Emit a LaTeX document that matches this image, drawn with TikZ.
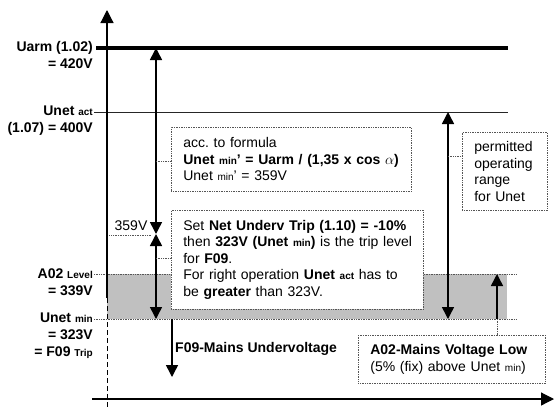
\documentclass[tikz,border=0pt]{standalone}
\usepackage{fontspec}
\setmainfont{Liberation Sans}
\usetikzlibrary{arrows.meta,positioning,calc}
\frenchspacing
\definecolor{bandgray}{HTML}{C0C0C0}
\definecolor{dotgray}{HTML}{555555}
\newcommand\lowtxt[1]{{\fontsize{10}{10}\selectfont #1}}
\tikzset{
  >={Triangle[length=12pt,width=12pt]},
  % nivåer
  axis/.style={draw=black,line width=1.2pt,-{Triangle[length=13pt,width=13pt]}},
  lvl/.style={font=\fontsize{14}{16.5}\selectfont\bfseries,anchor=east,
              text height=10.5pt,text depth=3pt,inner ysep=1.5pt,inner xsep=1pt},
  plain/.style={lvl,font=\fontsize{14}{16.5}\selectfont,anchor=center},
  lvlline/.style={draw=black!85,line width=1pt},
  guide/.style={draw=dotgray,line width=0.7pt,dash pattern=on 0.8pt off 0.9pt},
  span/.style={<->,draw=black,line width=1.5pt},
  single/.style={->,draw=black,line width=1.5pt},
  % rutor
  infobox/.style={rectangle,draw=dotgray,fill=white,line width=0.7pt,
                  dash pattern=on 0.8pt off 0.9pt,anchor=north west,
                  align=left,inner xsep=12pt,inner ysep=0pt,
                  font=\fontsize{14}{16.5}\selectfont},
}
\begin{document}
\begin{tikzpicture}[x=1pt,y=-1pt]
\useasboundingbox (0,0) rectangle (554,408);
  \fill[bandgray] (107,274) rectangle (507,319);
  % vänstra etiketter
  \node[lvl] (uarm) at (94,48) {Uarm (1.02)};
  \node[lvl,anchor=north east] (uarmv) at (uarm.south east) {= 420V};
  \node[lvl] (unetact) at (94,112) {Unet \lowtxt{act}};
  \node[lvl,anchor=north east] (unetactv) at (unetact.south east) {(1.07) = 400V};
  \node[lvl] (a02) at (94,275) {A02 \lowtxt{Level}};
  \node[lvl,anchor=north east] (a02v) at (a02.south east) {= 339V};
  \node[lvl] (unetmin) at (94,319) {Unet \lowtxt{min}};
  \node[lvl,anchor=north east] (unetminv) at (unetmin.south east) {= 323V};
  \node[lvl,anchor=north east] (f09trip) at (unetminv.south east) {= F09 \lowtxt{Trip}};
  \coordinate (uarmR) at (508,48);
  \coordinate (actR) at (508,112);
  \coordinate (a02R) at (517,274);
  \coordinate (minR) at (517,319);
  \draw[draw=black,line width=4pt] ([xshift=2pt]uarm.east) -- (uarmR);
  \draw[lvlline] (unetact.east) -- (actR);
  \draw[guide] (a02.east |- a02R) -- (a02R);
  \draw[guide] (unetmin.east) -- (minR);
  % achsen
  \coordinate (ytop) at (107,10);
  \coordinate (ysplit) at (107,298);
  \draw[axis] (ysplit) -- (ytop);
  \draw[draw=black,line width=1pt,dash pattern=on 5pt off 3pt] (ysplit) -- (107,408);
  \draw[axis] (92,399) -- (554,399);
  % pfeile
  \coordinate (armtop) at (156,48);
  \coordinate (m359) at (156,234);
  \coordinate (armbot) at (156,319);
  \draw[span] (armtop) -- (m359);
  \draw[span] (m359) -- (armbot);
  \node[plain] (v359) at (131,227) {359V};
  \draw[guide] ([xshift=-4pt]v359.south west) -- ([xshift=3pt]v359.south east);
  \draw[span] (448,112) -- (448,319);
  \coordinate (a02foot) at (497,319);
  \draw[single] (a02foot) -- (497,274);
  \coordinate (f09top) at (172,319);
  \draw[single] (f09top) -- (172,377);
  \node[lvl,anchor=west] (f09) at (174,349) {F09-Mains Undervoltage};
  % rutor
  \node[infobox,minimum width=240,minimum height=64,text width=216] (formula) at (171,127)
    {acc. to formula\\\textbf{Unet \lowtxt{min}' = Uarm / (1,35 x cos $\alpha$)}\\Unet \lowtxt{min}' = 359V};
  \node[infobox,minimum width=252,minimum height=99,text width=228] (settrip) at (171,210)
    {Set \textbf{Net Underv Trip (1.10) = -10\%}\\\mbox{then \textbf{323V (Unet \lowtxt{min})} is the trip level}\\for \textbf{F09}.\\For right operation \textbf{Unet \lowtxt{act}} has to\\be \textbf{greater} than 323V.};
  \node[infobox,minimum width=85,minimum height=78,text width=61] (permit) at (462,132)
    {permitted\\operating\\range\\for Unet};
  \node[infobox,minimum width=187,minimum height=48,text width=163] (a02box) at (358,335)
    {\textbf{A02-Mains Voltage Low}\\(5\% (fix) above Unet \lowtxt{min})};
  \coordinate (fmlL) at (156,161);
  \coordinate (setL) at (156,258);
  \coordinate (rangeL) at (448,156);
  \draw[guide] (fmlL) -- (fmlL -| formula.west);
  \draw[guide] (setL) -- (setL -| settrip.west);
  \draw[guide] (rangeL) -- (rangeL -| permit.west);
  \draw[guide] (a02foot) -- (a02foot |- a02box.north);
\end{tikzpicture}
\end{document}
